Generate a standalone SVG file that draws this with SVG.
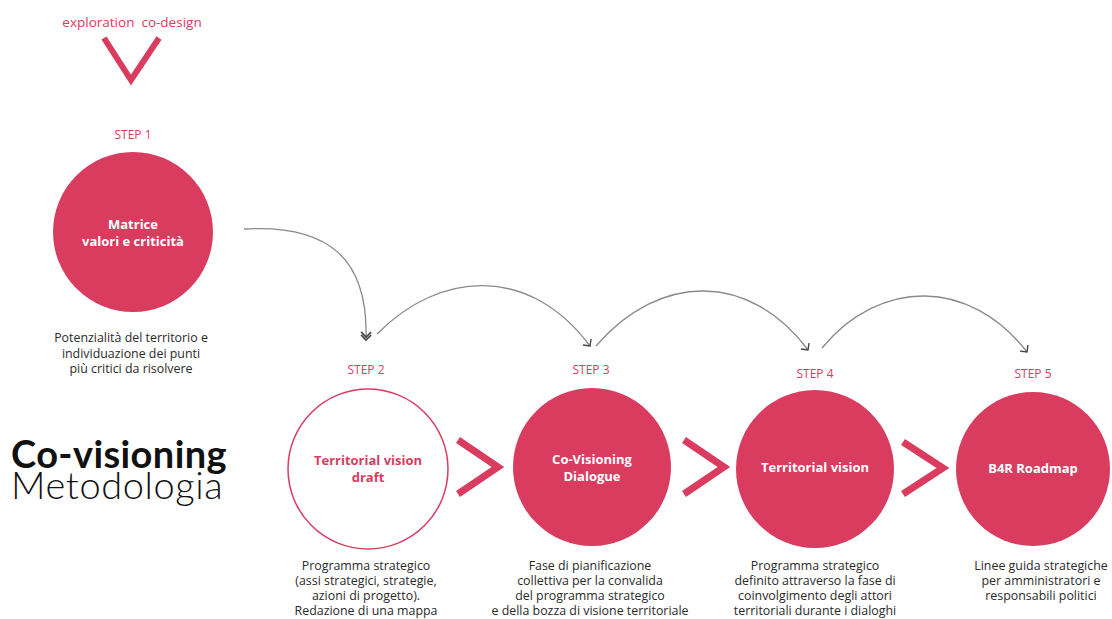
<svg xmlns="http://www.w3.org/2000/svg" width="1112" height="619" viewBox="0 0 1112 619">
<style>
.red{fill:#d93c5f}
.lbl{font-family:"Open Sans","Liberation Sans",sans-serif;fill:#d93c5f;font-size:12px;text-anchor:middle}
.ct{font-family:"Open Sans","Liberation Sans",sans-serif;fill:#fff;font-weight:bold;font-size:13px;text-anchor:middle}
.cap{font-family:"Open Sans","Liberation Sans",sans-serif;fill:#2a2a2a;font-size:12.4px;text-anchor:middle}
.con{fill:none;stroke:#8a8a8a;stroke-width:1.3}
</style>
<defs>
<marker id="ah" markerWidth="12" markerHeight="12" refX="6" refY="6" orient="auto" markerUnits="userSpaceOnUse">
<path d="M1,1 L6,6 L1,11" fill="none" stroke="#444" stroke-width="1.4"/>
</marker>
<marker id="ah2" markerWidth="14" markerHeight="14" refX="7" refY="7" orient="auto" markerUnits="userSpaceOnUse">
<path d="M1,2 L6,7 L1,12 M4,2 L9,7 L4,12" fill="none" stroke="#444" stroke-width="1.6"/>
</marker>
</defs>
<rect width="1112" height="619" fill="#fff"/>

<g id="header">
<text x="132" y="27" class="lbl" style="font-size:13.5px">exploration&#160; co-design</text>
<path d="M104,38 L131,80 L159,38" fill="none" stroke="#d93c5f" stroke-width="6"/>
</g>

<g id="title">
<text x="11" y="468" font-family="Lato,'Open Sans',sans-serif" font-weight="bold" font-size="38" letter-spacing="0.4" fill="#111">Co-visioning</text>
<text x="11" y="499" font-family="Lato,'Open Sans',sans-serif" font-weight="300" font-size="38" letter-spacing="0.6" fill="#111">Metodologia</text>
</g>

<g id="connectors">
<path class="con" d="M244,229 C330,224 368,260 366,338" stroke="#666" marker-end="url(#ah2)"/>
<path class="con" d="M377,334 C440,270 530,265 590,346" marker-end="url(#ah)"/>
<path class="con" d="M596,346 C660,272 750,272 808,350" marker-end="url(#ah)"/>
<path class="con" d="M822,348 C880,278 970,278 1027,352" marker-end="url(#ah)"/>
</g>

<g id="chevrons" fill="none" stroke="#d93c5f" stroke-width="7">
<path d="M458,440 L498,467 L458,494"/>
<path d="M684,440 L724,467 L684,494"/>
<path d="M903,442 L943,468 L903,494"/>
</g>

<g id="step1">
<text x="133" y="139" class="lbl">STEP 1</text>
<circle cx="133" cy="232" r="80" class="red"/>
<text x="133" y="229" class="ct">Matrice</text>
<text x="133" y="246" class="ct">valori e criticità</text>
<text x="131" y="342" class="cap">Potenzialità del territorio e</text>
<text x="131" y="358" class="cap">individuazione dei punti</text>
<text x="131" y="373" class="cap">più critici da risolvere</text>
</g>

<g id="step2">
<text x="366" y="374" class="lbl">STEP 2</text>
<circle cx="368" cy="469" r="80" fill="none" stroke="#d93c5f" stroke-width="1.5"/>
<text x="368" y="465" class="ct" style="fill:#d93c5f">Territorial vision</text>
<text x="368" y="482" class="ct" style="fill:#d93c5f">draft</text>
<text x="366" y="570" class="cap">Programma strategico</text>
<text x="366" y="585" class="cap">(assi strategici, strategie,</text>
<text x="366" y="600" class="cap">azioni di progetto).</text>
<text x="366" y="615" class="cap">Redazione di una mappa</text>
</g>

<g id="step3">
<text x="591" y="374" class="lbl">STEP 3</text>
<circle cx="592" cy="467" r="79" class="red"/>
<text x="592" y="464" class="ct">Co-Visioning</text>
<text x="592" y="481" class="ct">Dialogue</text>
<text x="590" y="570" class="cap">Fase di pianificazione</text>
<text x="590" y="585" class="cap">collettiva per la convalida</text>
<text x="590" y="600" class="cap">del programma strategico</text>
<text x="590" y="615" class="cap">e della bozza di visione territoriale</text>
</g>

<g id="step4">
<text x="815" y="378" class="lbl">STEP 4</text>
<circle cx="815" cy="469" r="79" class="red"/>
<text x="815" y="472" class="ct">Territorial vision</text>
<text x="815" y="570" class="cap">Programma strategico</text>
<text x="815" y="585" class="cap">definito attraverso la fase di</text>
<text x="815" y="600" class="cap">coinvolgimento degli attori</text>
<text x="815" y="615" class="cap">territoriali durante i dialoghi</text>
</g>

<g id="step5">
<text x="1033" y="378" class="lbl">STEP 5</text>
<circle cx="1033" cy="469" r="77" class="red"/>
<text x="1033" y="473" class="ct">B4R Roadmap</text>
<text x="1041" y="570" class="cap">Linee guida strategiche</text>
<text x="1041" y="585" class="cap">per amministratori e</text>
<text x="1041" y="600" class="cap">responsabili politici</text>
</g>
</svg>
